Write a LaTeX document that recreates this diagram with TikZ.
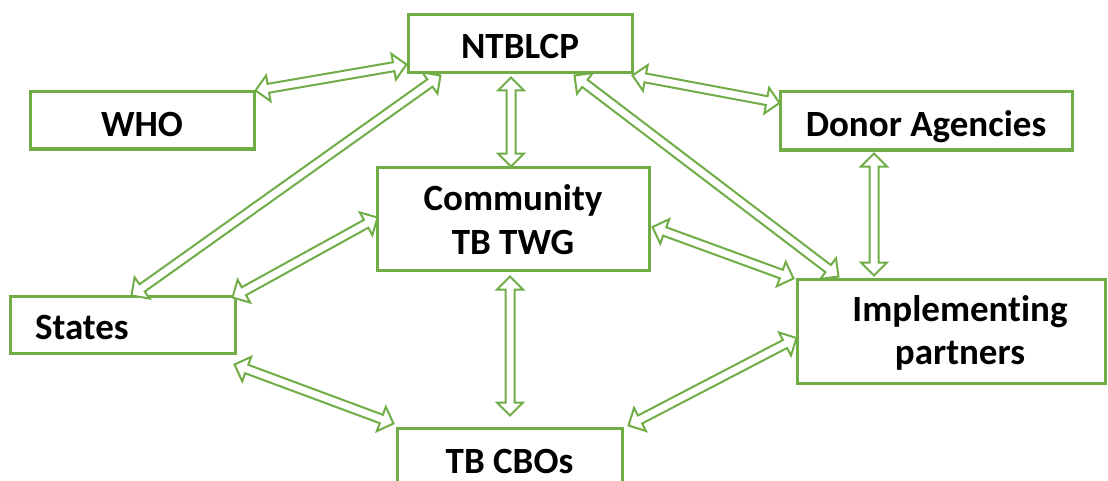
\documentclass[tikz,border=0pt]{standalone}
\usepackage{fontspec}
\setmainfont{Carlito}[Ligatures=NoCommon]
\usetikzlibrary{calc}
\definecolor{grn}{HTML}{70AD47}
\newcommand\dblarrow[2]{%
  \draw[arrowshape] (#1)
    -- ($(#1)!6.5pt!(#2)!6.5pt!90:(#2)$)
    -- ($(#1)!6.5pt!(#2)!2.25pt!90:(#2)$)
    -- ($(#2)!6.5pt!(#1)!2.25pt!-90:(#1)$)
    -- ($(#2)!6.5pt!(#1)!6.5pt!-90:(#1)$)
    -- (#2)
    -- ($(#2)!6.5pt!(#1)!6.5pt!90:(#1)$)
    -- ($(#2)!6.5pt!(#1)!2.25pt!90:(#1)$)
    -- ($(#1)!6.5pt!(#2)!2.25pt!-90:(#2)$)
    -- ($(#1)!6.5pt!(#2)!6.5pt!-90:(#2)$)
    -- cycle;}
\newcommand\lowered[2][1.6pt]{\raisebox{-#1}[\height][\depth]{#2}}
\tikzset{
  box/.style={draw=grn, line width=1.5pt, fill=white, inner sep=0pt,
    font=\fontsize{18.5}{22}\selectfont\bfseries},
  oneline/.style={text height=0.644em, text depth=0pt},
  arrowshape/.style={draw=grn, line width=1pt, fill=white, line join=miter},
}
\begin{document}
\begin{tikzpicture}[x=0.5pt,y=-0.5pt]
\useasboundingbox (0,0) rectangle (1108,481);
\node[box, oneline, minimum width=112pt, minimum height=29pt] (ntblcp) at (520,44) {\lowered[4.1pt]{NTBLCP}};
\node[box, oneline, minimum width=112pt, minimum height=28.5pt] (who) at (142,120.5) {\lowered[4.7pt]{WHO}};
\node[box, align=center, minimum width=136pt, minimum height=51.5pt] (comm) at (513,218.5) {\lowered[0.8pt]{Community}\\\lowered[0.8pt]{TB TWG}};
\node[box, oneline, minimum width=112.5pt, minimum height=28.5pt] (states) at (122.5,324.5) {\lowered[4.1pt]{\makebox[87.5pt][l]{States}}};
\node[box, oneline, minimum width=146pt, minimum height=29pt] (donor) at (926,121) {\lowered[4.6pt]{Donor Agencies}};
\node[box, align=center, minimum width=154pt, minimum height=52pt] (impl) at (951,331) {\lowered[1.2pt]{\hspace*{9pt}Implementing}\\\lowered[0.6pt]{\hspace*{9pt}partners}};
\node[box, oneline, minimum width=112.5pt, minimum height=31pt] (cbo) at (509.5,459) {\lowered[4pt]{TB CBOs}};

\coordinate (a1) at (who.north east);
\coordinate (a2) at ($(ntblcp.south west)+(0,-10)$);
\coordinate (b1) at ($(states.north west)+(123,1)$);
\coordinate (b2) at ($(ntblcp.south west)+(34,1)$);
\coordinate (c1) at ($(states.north east)+(-4,3)$);
\coordinate (c2) at ($(comm.west)+(2,-1)$);
\coordinate (d1) at ($(ntblcp.south)+(-9,3)$);
\coordinate (d2) at ($(comm.north)+(-2,1)$);
\coordinate (e1) at ($(ntblcp.south east)+(-1,1)$);
\coordinate (e2) at ($(donor.west)+(1,-18)$);
\coordinate (f1) at ($(ntblcp.south west)+(168,1)$);
\coordinate (f2) at ($(impl.north west)+(43,-1)$);
\coordinate (g1) at ($(donor.south)+(-52,2)$);
\coordinate (g2) at ($(impl.north)+(-77,-2)$);
\coordinate (h1) at ($(comm.east)+(2,8.5)$);
\coordinate (h2) at ($(impl.north west)+(-2,1)$);
\coordinate (i1) at ($(states.south east)+(-2,10)$);
\coordinate (i2) at ($(cbo.north west)+(-2,-3)$);
\coordinate (j1) at ($(comm.south)+(-3,5)$);
\coordinate (j2) at ($(cbo.north)+(0.5,-11)$);
\coordinate (k1) at ($(cbo.north east)+(5,-1)$);
\coordinate (k2) at ($(impl.west)+(1,7)$);

\dblarrow{a1}{a2}
\dblarrow{b1}{b2}
\dblarrow{c1}{c2}
\dblarrow{d1}{d2}
\dblarrow{e1}{e2}
\dblarrow{f1}{f2}
\dblarrow{g1}{g2}
\dblarrow{h1}{h2}
\dblarrow{i1}{i2}
\dblarrow{j1}{j2}
\dblarrow{k1}{k2}
\end{tikzpicture}
\end{document}
